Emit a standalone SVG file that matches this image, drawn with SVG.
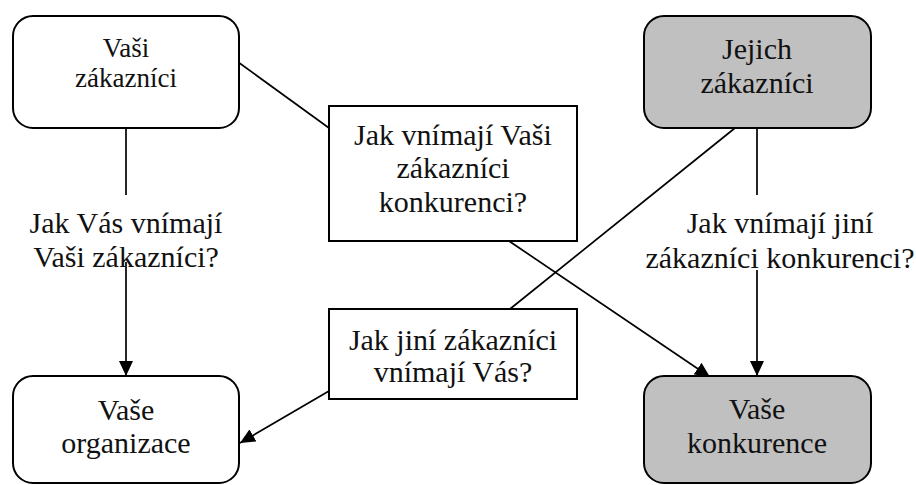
<svg xmlns="http://www.w3.org/2000/svg" width="916" height="485" viewBox="0 0 916 485">
  <style>
    .box { fill: #ffffff; stroke: #000000; stroke-width: 2; }
    .grey { fill: #c0c0c0; }
    .lbl { font-family: "Liberation Serif", "Times New Roman", serif; font-size: 30px; fill: #111111; text-anchor: middle; }
    .small { font-size: 27px; }
    .link { fill: none; stroke: #000000; stroke-width: 1.7; }
  </style>
  <defs>
    <marker id="arrow" markerUnits="userSpaceOnUse" markerWidth="15" markerHeight="14" refX="15" refY="7" orient="auto">
      <path d="M0,0 L15,7 L0,14 z" fill="#000000"/>
    </marker>
  </defs>

  <rect x="0" y="0" width="916" height="485" fill="#ffffff"/>

  <!-- connectors -->
  <g id="connectors">
    <!-- customers → competition question → competition -->
    <line class="link" x1="238" y1="62" x2="329" y2="128"/>
    <line class="link" x1="509" y1="241" x2="710" y2="377" marker-end="url(#arrow)"/>
    <!-- their customers → question → your organisation -->
    <line class="link" x1="735" y1="128" x2="510" y2="309"/>
    <line class="link" x1="329" y1="391" x2="240" y2="443" marker-end="url(#arrow)"/>
    <!-- left vertical -->
    <line class="link" x1="126" y1="128" x2="126" y2="195"/>
    <line class="link" x1="126" y1="262" x2="126" y2="376" marker-end="url(#arrow)"/>
    <!-- right vertical -->
    <line class="link" x1="757" y1="128" x2="757" y2="195"/>
    <line class="link" x1="757" y1="270" x2="757" y2="376" marker-end="url(#arrow)"/>
    <!-- vertical labels -->
    <text class="lbl" x="126" y="233">Jak Vás vnímají</text>
    <text class="lbl" x="126" y="267">Vaši zákazníci?</text>
    <text class="lbl" x="780" y="233">Jak vnímají jiní</text>
    <text class="lbl" x="780" y="268">zákazníci konkurenci?</text>
  </g>

  <g id="vasi-zakaznici">
    <rect class="box" x="13" y="16" width="226" height="112" rx="20" ry="20"/>
    <text class="lbl small" x="126" y="57">Vaši</text>
    <text class="lbl small" x="126" y="87">zákazníci</text>
  </g>

  <g id="jejich-zakaznici">
    <rect class="box grey" x="644" y="16" width="227" height="112" rx="20" ry="20"/>
    <text class="lbl" x="757" y="59">Jejich</text>
    <text class="lbl" x="757" y="93">zákazníci</text>
  </g>

  <g id="otazka-konkurence">
    <rect class="box" x="329" y="106" width="248" height="135"/>
    <text class="lbl" x="453" y="145">Jak vnímají Vaši</text>
    <text class="lbl" x="453" y="178">zákazníci</text>
    <text class="lbl" x="453" y="212">konkurenci?</text>
  </g>

  <g id="otazka-jini">
    <rect class="box" x="329" y="309" width="248" height="90"/>
    <text class="lbl" x="453" y="350">Jak jiní zákazníci</text>
    <text class="lbl" x="453" y="382">vnímají Vás?</text>
  </g>

  <g id="vase-organizace">
    <rect class="box" x="13" y="376" width="226" height="107" rx="20" ry="20"/>
    <text class="lbl" x="126" y="420">Vaše</text>
    <text class="lbl" x="126" y="453">organizace</text>
  </g>

  <g id="vase-konkurence">
    <rect class="box grey" x="644" y="376" width="227" height="107" rx="20" ry="20"/>
    <text class="lbl" x="757" y="419">Vaše</text>
    <text class="lbl" x="757" y="453">konkurence</text>
  </g>
</svg>
